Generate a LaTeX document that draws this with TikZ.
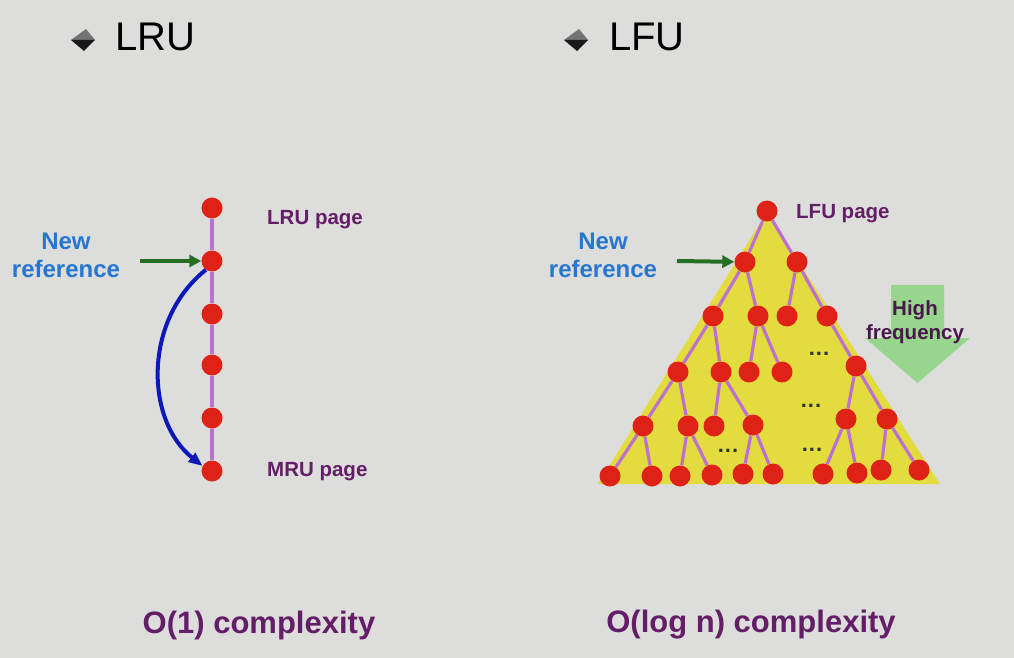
\documentclass[tikz,border=0pt]{standalone}
\usepackage{fontspec}
\setmainfont{Liberation Sans}
\usetikzlibrary{arrows.meta}

\definecolor{bggray}{RGB}{221,221,219}
\definecolor{pagered}{RGB}{222,34,22}
\definecolor{linkpurple}{RGB}{188,112,208}
\definecolor{refblue}{RGB}{38,118,210}
\definecolor{textpurple}{RGB}{100,30,104}
\definecolor{arrowgreen}{RGB}{36,112,34}
\definecolor{movblue}{RGB}{12,24,184}
\definecolor{treeyellow}{RGB}{226,220,62}
\definecolor{freqgreen}{RGB}{152,214,142}

\tikzset{
  page/.style={circle, fill=pagered, inner sep=0pt, minimum size=21pt},
  link/.style={draw=linkpurple, line width=3.2pt},
  newref/.style={->, draw=arrowgreen, line width=4pt, >={Triangle[length=12pt,width=12pt]}},
  reftext/.style={font=\bfseries\fontsize{24}{28}\selectfont, text=refblue, align=center, inner sep=0pt},
  pagetext/.style={font=\bfseries\fontsize{20.5}{24}\selectfont, text=textpurple, anchor=west, inner sep=0pt},
  title/.style={font=\fontsize{40}{40}\selectfont, anchor=west, inner sep=0pt},
  cplx/.style={font=\bfseries\fontsize{31}{31}\selectfont, text=textpurple, inner sep=0pt},
  dots/.style={font=\bfseries\fontsize{22}{22}\selectfont, text=black!80, inner sep=0pt}
}

\begin{document}
\begin{tikzpicture}[x=1pt, y=-1pt]

% background
\fill[bggray] (0,0) rectangle (1014,658);

% bullets and titles
\foreach \bx in {0,493}{
  \begin{scope}[xshift=\bx pt]
    \fill[black!55] (71,40) -- (86,29) -- (95,40) -- cycle;
    \fill[black!90] (71,40) -- (95,40) -- (84,51) -- cycle;
  \end{scope}
}
\node[title] (tlru) at (115,37) {LRU};
\node[title] (tlfu) at (609,37) {LFU};

% LRU list
\foreach \i/\y in {1/208,2/261,3/314,4/365,5/418,6/471}
  \node[page] (r\i) at (212,\y) {};
\foreach \a/\b in {r1/r2,r2/r3,r3/r4,r4/r5,r5/r6}
  \draw[link] (\a) -- (\b);

\node[pagetext] (lrupage) at (267,220) {LRU page};
\node[pagetext] (mrupage) at (267,472) {MRU page};
\node[reftext] (newl) at (66,255) {New\\reference};
\coordinate (newlend) at (140,261);
\draw[newref] (newlend) -- (r2);
\draw[->, draw=movblue, line width=4pt, >={Triangle[length=14pt,width=11pt]}]
  (r2.235) .. controls (143,320) and (145,420) .. (r6.152);

% LFU tree
\fill[treeyellow] (767,212) -- (940,484) -- (598,484) -- cycle;

\foreach \n/\x/\y in {f0/767/211,
  f11/745/262, f12/797/262,
  f21/713/316, f22/758/316, f23/787/316, f24/827/316,
  f31/678/372, f32/721/372, f33/749/372, f34/782/372, f35/856/366,
  f41/643/426, f42/688/426, f43/714/426, f44/753/425, f45/846/419, f46/887/419,
  f51/610/476, f52/652/476, f53/680/476, f54/712/475, f55/743/474,
  f56/773/474, f57/823/474, f58/857/473, f59/881/470, f60/919/470}
  \node[page] (\n) at (\x,\y) {};

\foreach \a/\b in {f0/f11, f0/f12, f11/f21, f11/f22, f12/f23, f12/f24,
  f21/f31, f21/f32, f22/f33, f22/f34, f24/f35,
  f31/f41, f31/f42, f32/f43, f32/f44, f35/f45, f35/f46,
  f41/f51, f41/f52, f42/f53, f42/f54, f44/f55, f44/f56,
  f45/f57, f45/f58, f46/f59, f46/f60}
  \draw[link] (\a) -- (\b);

\foreach \d/\x/\y in {d1/819/354, d2/811/406, d3/728/451, d4/812/450}
  \node[dots] (\d) at (\x,\y) {.\kern1pt.\kern1pt.};

\node[pagetext] (lfupage) at (796,214) {LFU page};
\node[reftext] (newf) at (603,255) {New\\reference};
\coordinate (newfend) at (677,261);
\draw[newref] (newfend) -- (f11);

% high frequency arrow
\fill[freqgreen] (891,285) -- (944,285) -- (944,338) -- (970,338)
  -- (917.5,383) -- (865,338) -- (891,338) -- cycle;
\node[font=\bfseries\fontsize{20.5}{24}\selectfont, text=textpurple!75!black,
  align=center, inner sep=0pt] (hfreq) at (915,322) {High\\frequency};

% complexity
\node[cplx] (c1) at (259,625) {O(1) complexity};
\node[cplx] (c2) at (751,625) {O(log n) complexity};

\end{tikzpicture}
\end{document}
